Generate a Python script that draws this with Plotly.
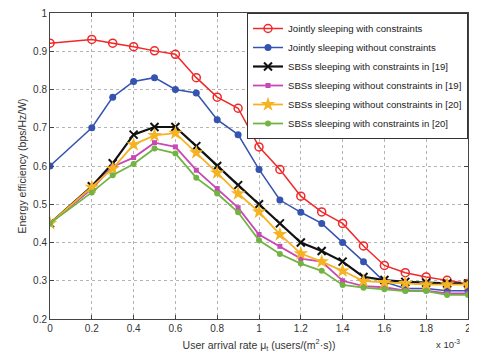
import plotly.graph_objects as go

x_vals = [0, 0.2, 0.3, 0.4, 0.5, 0.6, 0.7, 0.8, 0.9, 1.0, 1.1, 1.2, 1.3, 1.4, 1.5, 1.6, 1.7, 1.8, 1.9, 2.0]

joint_with = [0.921, 0.931, 0.921, 0.912, 0.901, 0.892, 0.831, 0.780, 0.751, 0.650, 0.591, 0.521, 0.480, 0.450, 0.391, 0.340, 0.321, 0.310, 0.301, 0.293]
joint_without = [0.600, 0.700, 0.780, 0.821, 0.831, 0.800, 0.791, 0.721, 0.682, 0.591, 0.511, 0.479, 0.450, 0.400, 0.350, 0.297, 0.280, 0.280, 0.274, 0.274]
sbs_with_19 = [0.450, 0.547, 0.607, 0.682, 0.702, 0.702, 0.652, 0.600, 0.550, 0.500, 0.450, 0.400, 0.378, 0.350, 0.310, 0.302, 0.297, 0.295, 0.293, 0.293]
sbs_without_19 = [0.450, 0.540, 0.598, 0.622, 0.661, 0.650, 0.589, 0.541, 0.491, 0.421, 0.390, 0.358, 0.350, 0.300, 0.286, 0.283, 0.274, 0.274, 0.267, 0.267]
sbs_without_20 = [0.450, 0.545, 0.593, 0.656, 0.680, 0.686, 0.635, 0.582, 0.528, 0.480, 0.421, 0.371, 0.350, 0.326, 0.299, 0.296, 0.293, 0.290, 0.290, 0.290]
sbs_with_20 = [0.450, 0.531, 0.576, 0.605, 0.646, 0.633, 0.569, 0.528, 0.479, 0.406, 0.370, 0.345, 0.326, 0.289, 0.282, 0.278, 0.273, 0.273, 0.263, 0.263]

x_ticks = [0, 0.2, 0.4, 0.6, 0.8, 1, 1.2, 1.4, 1.6, 1.8, 2]
x_tick_text = ["0", "0.2", "0.4", "0.6", "0.8", "1", "1.2", "1.4", "1.6", "1.8", "2"]
y_ticks = [0.2, 0.3, 0.4, 0.5, 0.6, 0.7, 0.8, 0.9, 1]
y_tick_text = ["0.2", "0.3", "0.4", "0.5", "0.6", "0.7", "0.8", "0.9", "1"]

series = [
    ("Jointly sleeping with constraints", joint_with, "#f02828", "circle-open", 8, 1.5),
    ("Jointly sleeping without constraints", joint_without, "#3553b0", "circle", 7, 1.5),
    ("SBSs sleeping with constraints in [19]", sbs_with_19, "#111111", "x-thin-open", 8, 2.2),
    ("SBSs sleeping without constraints in [19]", sbs_without_19, "#c848b4", "square", 5, 1.8),
    ("SBSs sleeping without constraints in [20]", sbs_without_20, "#f5b324", "star", 11, 1.8),
    ("SBSs sleeping with constraints in [20]", sbs_with_20, "#72b443", "circle", 6, 1.8),
]

fig = go.Figure()
for name, ys, color, sym, size, lw in series:
    marker = dict(symbol=sym, size=size, color=color)
    if sym in ("circle-open", "x-thin-open"):
        marker["line"] = dict(color=color, width=2 if sym == "x-thin-open" else 1.5)
    else:
        marker["line"] = dict(width=0)
    fig.add_trace(go.Scatter(x=x_vals, y=ys, mode="lines+markers", name=name,
                             line=dict(color=color, width=lw), marker=marker))

axis_common = dict(showline=True, linecolor="#444", linewidth=1, mirror="ticks",
                   ticks="inside", ticklen=4, tickcolor="#444", automargin=False,
                   ticklabeloverflow="allow",
                   showgrid=True, gridcolor="#b5b5b5", griddash="dot", gridwidth=1,
                   zeroline=False, tickfont=dict(size=10, color="#333"))

# page body has an 8px default margin, so the figure is sized to fit the window
fig.update_layout(
    template="none",
    width=469, height=349,
    margin=dict(l=42, r=9, t=5, b=38),
    paper_bgcolor="white", plot_bgcolor="white",
    font=dict(family="Liberation Sans, Arial, sans-serif", color="#333"),
    xaxis=dict(range=[0, 2], tickvals=x_ticks, ticktext=x_tick_text,
               title=dict(text="User arrival rate μ<sub>t</sub> (users/(m<sup>2</sup>·s))",
                          font=dict(size=10.5), standoff=8), **axis_common),
    yaxis=dict(range=[0.2, 1], tickvals=y_ticks, ticktext=y_tick_text,
               title=dict(text="Energy efficiency (bps/Hz/W)", font=dict(size=10.5), standoff=4),
               **axis_common),
    legend=dict(x=1, y=1, xanchor="right", yanchor="top", bgcolor="white",
                bordercolor="#333", borderwidth=1, font=dict(size=9.6, color="#222"),
                tracegroupgap=0, itemwidth=30),
    showlegend=True,
)
fig.add_annotation(text="x 10<sup>-3</sup>", xref="paper", yref="paper", x=1, y=0,
                   xanchor="right", yanchor="middle", xshift=-6, yshift=-25, showarrow=False,
                   font=dict(size=9.5, color="#333"))

fig.write_html("out.html")
